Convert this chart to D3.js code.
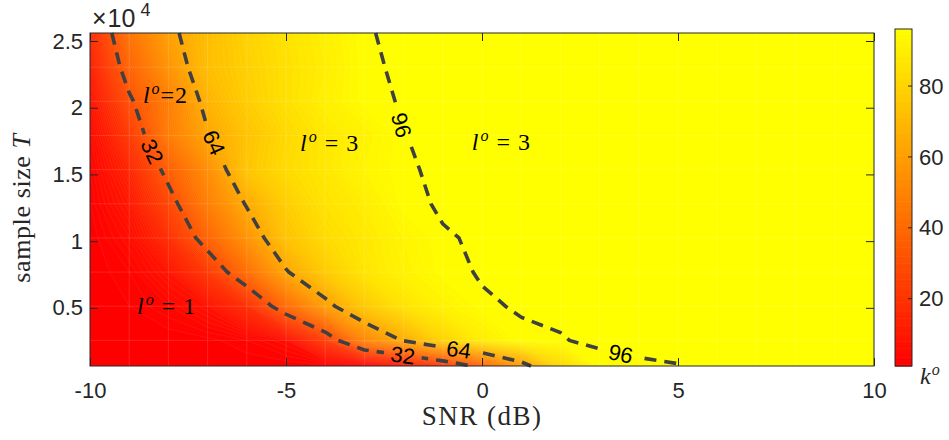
<!DOCTYPE html>
<html>
<head>
<meta charset="utf-8">
<script src="https://cdn.jsdelivr.net/npm/d3@7"></script>
<style>
  body { margin: 0; background: #fff; }
  svg { display: block; font-family: "Liberation Sans", Arial, sans-serif; }
</style>
</head>
<body>
<svg id="chart" width="949" height="440"></svg>
<script>
// grid of the surface: SNR (dB) columns, sample size T rows (top to bottom)
var snr = [-10, -9, -8, -7, -6, -5, -4, -3, -2, -1, 0, 1, 2, 3, 4, 5, 6, 7, 8, 9, 10];
var sampleT = [25600, 23040, 20480, 17920, 15360, 12800, 10240, 7680, 5120, 2560, 640];

// k^o, one row per sample size
var kVals = [
  [17, 44, 61, 72, 80, 86, 91, 95.96, 96.1, 96.1, 96.1, 96.1, 96.1, 96.1, 96.1, 96.1, 96.1, 96.1, 96.1, 96.1, 96.1],
  [12, 38, 56, 72, 79, 85, 90, 95.89, 96.1, 96.1, 96.1, 96.1, 96.1, 96.1, 96.1, 96.1, 96.1, 96.1, 96.1, 96.1, 96.1],
  [8, 30, 48, 68, 78, 85, 91, 95.64, 96.1, 96.1, 96.1, 96.1, 96.1, 96.1, 96.1, 96.1, 96.1, 96.1, 96.1, 96.1, 96.1],
  [5, 22, 47, 63, 74, 82, 88, 92, 95.99, 96.1, 96.1, 96.1, 96.1, 96.1, 96.1, 96.1, 96.1, 96.1, 96.1, 96.1, 96.1],
  [3, 15, 36, 54, 75, 83, 88, 93, 95.93, 96.1, 96.1, 96.1, 96.1, 96.1, 96.1, 96.1, 96.1, 96.1, 96.1, 96.1, 96.1],
  [2, 10, 27, 48, 65, 78, 86, 90, 95.77, 96.1, 96.1, 96.1, 96.1, 96.1, 96.1, 96.1, 96.1, 96.1, 96.1, 96.1, 96.1],
  [1, 6, 18, 38, 56, 74, 83, 88, 93, 95.93, 96.1, 96.1, 96.1, 96.1, 96.1, 96.1, 96.1, 96.1, 96.1, 96.1, 96.1],
  [1, 3, 9, 22, 42, 63, 77, 87, 92, 95.66, 96.1, 96.1, 96.1, 96.1, 96.1, 96.1, 96.1, 96.1, 96.1, 96.1, 96.1],
  [1, 2, 4, 8, 18, 40, 60, 76, 86, 92, 95.85, 96.1, 96.1, 96.1, 96.1, 96.1, 96.1, 96.1, 96.1, 96.1, 96.1],
  [1, 1, 1, 1.5, 3, 6, 23, 50.5, 65, 80, 90, 95.79, 95.97, 96.1, 96.1, 96.1, 96.1, 96.1, 96.1, 96.1, 96.1],
  [1, 1, 1, 1, 1, 1, 1, 1, 8, 20, 36, 58, 82, 95.8, 95.95, 95.99, 96.1, 96.1, 96.1, 96.1, 96.1]
];

var lineLevels = [32, 64, 96];
var xTicks = [-10, -5, 0, 5, 10];
var yTicks = [5000, 10000, 15000, 20000, 25000];
var cTicks = [20, 40, 60, 80];

// inline contour labels (approximate spot along each line)
var contourLabels = [
  { level: 32, snr: -8.43, T: 16700 },
  { level: 32, snr: -2.02, T: 1450 },
  { level: 64, snr: -6.86, T: 17350 },
  { level: 64, snr: -0.61, T: 1500 },
  { level: 96, snr: -2.05, T: 18700 },
  { level: 96, snr: 3.52, T: 1300 }
];

// region annotations l^o
var regionLabels = [
  { snr: -8.65, T: 20350, text: "=2" },
  { snr: -4.64, T: 16750, text: " = 3" },
  { snr: -0.26, T: 16820, text: " = 3" },
  { snr: -8.8, T: 4520, text: " = 1" }
];

var kMin = 1, kMax = 96.1;

var svg = d3.select("#chart");
var margin = { top: 33, left: 90 };
var width = 784, height = 333;
var axisColor = "#262626";
var tickFont = "22px 'Liberation Sans', Arial, sans-serif";

var x = d3.scaleLinear().domain([-10, 10]).range([0, width]);
var y = d3.scaleLinear().domain([640, 25600]).range([height, 0]);
var color = d3.scaleLinear().domain([kMin, kMax]).range(["#ff0000", "#ffff00"]);

var defs = svg.append("defs");
defs.append("clipPath").attr("id", "plotClip")
    .append("rect").attr("width", width).attr("height", height);

var g = svg.append("g")
    .attr("transform", "translate(" + margin.left + "," + margin.top + ")");

// grid coordinate from d3.contours -> data value
function gridIndex(c, n) {
    return Math.max(0, Math.min(n - 1, c - 0.5));
}
function interp(i, arr) {
    var i0 = Math.floor(i), i1 = Math.min(arr.length - 1, i0 + 1);
    return arr[i0] + (arr[i1] - arr[i0]) * (i - i0);
}

var nx = snr.length, ny = sampleT.length;
var grid = [].concat.apply([], kVals);
var contours = d3.contours().size([nx, ny]);

var proj = d3.geoTransform({
    point: function (cx, cy) {
        this.stream.point(x(interp(gridIndex(cx, nx), snr)), y(interp(gridIndex(cy, ny), sampleT)));
    }
});
var path = d3.geoPath(proj);

// filled contours
var fillLevels = d3.range(kMin, kMax, 1);
g.append("g")
    .attr("clip-path", "url(#plotClip)")
    .selectAll("path")
    .data(contours.thresholds(fillLevels)(grid))
    .join("path")
    .attr("d", path)
    .attr("fill", function (d) { return color(d.value); })
    .attr("stroke", "rgba(255,255,255,0.10)")
    .attr("stroke-width", 0.6);

// faint mesh of the data grid
var mesh = g.append("g").attr("stroke", "#fff").attr("stroke-opacity", 0.16).attr("stroke-width", 0.8);
mesh.selectAll(".vl").data(snr.slice(1, -1)).join("line")
    .attr("x1", function (d) { return x(d); }).attr("x2", function (d) { return x(d); })
    .attr("y1", 0).attr("y2", height);
mesh.selectAll(".hl").data(sampleT.slice(1, -1)).join("line")
    .attr("y1", function (d) { return y(d); }).attr("y2", function (d) { return y(d); })
    .attr("x1", 0).attr("x2", width);

// contour lines split off the plot border
function splitRing(ring) {
    var pts = ring.map(function (p) {
        var ix = gridIndex(p[0], nx), iy = gridIndex(p[1], ny);
        return { ix: ix, iy: iy, px: x(interp(ix, snr)), py: y(interp(iy, sampleT)) };
    });
    function onBorder(a, b) {
        return (a.ix === 0 && b.ix === 0) || (a.ix === nx - 1 && b.ix === nx - 1) ||
            (a.iy === 0 && b.iy === 0) || (a.iy === ny - 1 && b.iy === ny - 1);
    }
    var n = pts.length - 1, start = -1;
    for (var i = 0; i < n; i++) if (onBorder(pts[i], pts[i + 1])) { start = i + 1; break; }
    if (start < 0) return [pts.map(function (p) { return [p.px, p.py]; })];
    var order = [];
    for (var k = 0; k <= n; k++) order.push(pts[(start + k) % n]);
    var out = [], cur = [order[0]];
    for (k = 0; k < order.length - 1; k++) {
        if (onBorder(order[k], order[k + 1])) {
            if (cur.length > 1) out.push(cur);
            cur = [order[k + 1]];
        } else cur.push(order[k + 1]);
    }
    if (cur.length > 1) out.push(cur);
    return out.map(function (c) { return c.map(function (p) { return [p.px, p.py]; }); });
}

var lineSets = lineLevels.map(function (lv) {
    var mp = contours.contour(grid, lv), pieces = [];
    mp.coordinates.forEach(function (poly) {
        poly.forEach(function (ring) {
            splitRing(ring).forEach(function (p) { pieces.push(p); });
        });
    });
    return { level: lv, pieces: pieces };
});

function nearestOn(pieces, px, py) {
    var best = null;
    pieces.forEach(function (pts) {
        for (var i = 0; i < pts.length - 1; i++) {
            var ax = pts[i][0], ay = pts[i][1], bx = pts[i + 1][0], by = pts[i + 1][1];
            var dx = bx - ax, dy = by - ay, L = dx * dx + dy * dy;
            var t = L ? ((px - ax) * dx + (py - ay) * dy) / L : 0;
            t = Math.max(0, Math.min(1, t));
            var qx = ax + t * dx, qy = ay + t * dy;
            var d = (qx - px) * (qx - px) + (qy - py) * (qy - py);
            if (!best || d < best.d) best = { d: d, x: qx, y: qy, ang: Math.atan2(dy, dx) * 180 / Math.PI };
        }
    });
    if (best.ang > 90) best.ang -= 180;
    if (best.ang < -90) best.ang += 180;
    return best;
}

var labelSpots = contourLabels.map(function (lb) {
    var set = lineSets.filter(function (s) { return s.level === lb.level; })[0];
    var p = nearestOn(set.pieces, x(lb.snr), y(lb.T));
    return { level: lb.level, x: p.x, y: p.y, ang: p.ang };
});

var mask = defs.append("mask").attr("id", "lblMask")
    .attr("maskUnits", "userSpaceOnUse")
    .attr("x", -margin.left).attr("y", -margin.top).attr("width", 949).attr("height", 440);
mask.append("rect").attr("x", -margin.left).attr("y", -margin.top)
    .attr("width", 949).attr("height", 440).attr("fill", "#fff");
mask.selectAll(".gap").data(labelSpots).join("rect")
    .attr("x", -19).attr("y", -10).attr("width", 38).attr("height", 20)
    .attr("fill", "#000")
    .attr("transform", function (d) { return "translate(" + d.x + "," + d.y + ") rotate(" + d.ang + ")"; });

var lineGen = d3.line();
var lines = g.append("g").attr("mask", "url(#lblMask)");
lineSets.forEach(function (s) {
    lines.selectAll(null).data(s.pieces).join("path")
        .attr("d", lineGen)
        .attr("fill", "none")
        .attr("stroke", "#404040")
        .attr("stroke-width", 3.6)
        .attr("stroke-dasharray", "12,8");
});

g.selectAll(".clabel").data(labelSpots).join("text")
    .attr("class", "clabel")
    .attr("transform", function (d) { return "translate(" + d.x + "," + d.y + ") rotate(" + d.ang + ")"; })
    .attr("text-anchor", "middle")
    .attr("dy", "0.36em")
    .style("font", "22px 'Liberation Sans', Arial, sans-serif")
    .attr("fill", "#000")
    .text(function (d) { return d.level; });

// region annotations
regionLabels.forEach(function (r) {
    var t = g.append("text")
        .attr("x", x(r.snr)).attr("y", y(r.T))
        .style("font-family", "'Liberation Serif', 'Times New Roman', serif")
        .style("font-size", "24px")
        .style("letter-spacing", "1px")
        .attr("fill", "#000");
    t.append("tspan").attr("font-style", "italic").text("l");
    t.append("tspan").attr("font-style", "italic").attr("font-size", "16px").attr("dy", -9).attr("dx", 1).text("o");
    t.append("tspan").attr("dy", 9).text(r.text);
});

// axes
function styleAxis(sel) {
    sel.select(".domain").remove();
    sel.selectAll("line").attr("stroke", axisColor);
    sel.selectAll("text").attr("fill", axisColor).style("font", tickFont);
}

g.append("g").attr("transform", "translate(0," + height + ")")
    .call(d3.axisBottom(x).tickValues(xTicks).tickSize(-8).tickPadding(16)
        .tickFormat(function (d) { return String(d); }))
    .call(styleAxis);
g.append("g")
    .call(d3.axisTop(x).tickValues(xTicks).tickSize(-8).tickFormat(""))
    .call(styleAxis);
g.append("g")
    .call(d3.axisLeft(y).tickValues(yTicks).tickSize(-8).tickPadding(7)
        .tickFormat(function (d) { return String(d / 1e4); }))
    .call(styleAxis);
g.append("g").attr("transform", "translate(" + width + ",0)")
    .call(d3.axisRight(y).tickValues(yTicks).tickSize(-8).tickFormat(""))
    .call(styleAxis);

g.append("rect").attr("width", width).attr("height", height)
    .attr("fill", "none").attr("stroke", axisColor).attr("stroke-width", 1);

// x10^4 exponent
var ex = svg.append("text").attr("x", 92).attr("y", 27).attr("fill", axisColor)
    .style("font", "25px 'Liberation Sans', Arial, sans-serif");
ex.append("tspan").text("\u00d7");
ex.append("tspan").attr("dx", 1).text("10");
ex.append("tspan").attr("font-size", "18px").attr("dy", -11).attr("dx", 5).text("4");

// axis titles
svg.append("text")
    .attr("transform", "translate(" + (margin.left + width / 2) + ",425)")
    .attr("text-anchor", "middle")
    .style("font", "27px 'Liberation Serif', 'Times New Roman', serif")
    .style("letter-spacing", "1.5px")
    .attr("fill", axisColor)
    .text("SNR (dB)");

var yl = svg.append("text")
    .attr("transform", "translate(30,208) rotate(-90)")
    .attr("text-anchor", "middle")
    .style("font", "26px 'Liberation Serif', 'Times New Roman', serif")
    .style("letter-spacing", "0.6px")
    .attr("fill", axisColor);
yl.append("tspan").text("sample size ");
yl.append("tspan").attr("font-style", "italic").text("T");

// colorbar
var cb = { x: 895, y0: 29, y1: 366, w: 17 };
var cy = d3.scaleLinear().domain([kMin, kMax]).range([cb.y1, cb.y0]);
var cbLevels = d3.range(kMin, kMax, 0.5);
svg.append("g").selectAll("rect").data(cbLevels).join("rect")
    .attr("x", cb.x)
    .attr("y", function (d) { return cy(Math.min(kMax, d + 0.5)); })
    .attr("width", cb.w)
    .attr("height", function (d) { return cy(d) - cy(Math.min(kMax, d + 0.5)) + 0.6; })
    .attr("fill", function (d) { return color(d); });
svg.append("rect").attr("x", cb.x).attr("y", cb.y0).attr("width", cb.w).attr("height", cb.y1 - cb.y0)
    .attr("fill", "none").attr("stroke", axisColor).attr("stroke-width", 1);
svg.append("g").selectAll("line").data(cTicks).join("line")
    .attr("x1", cb.x + cb.w).attr("x2", cb.x + cb.w - 4)
    .attr("y1", function (d) { return cy(d); }).attr("y2", function (d) { return cy(d); })
    .attr("stroke", axisColor);
svg.append("g").selectAll("text").data(cTicks).join("text")
    .attr("x", cb.x + cb.w + 7)
    .attr("y", function (d) { return cy(d); })
    .attr("dy", "0.35em")
    .attr("fill", axisColor)
    .style("font", tickFont)
    .text(function (d) { return d; });

var kl = svg.append("text").attr("x", 920).attr("y", 384)
    .style("font", "24px 'Liberation Serif', 'Times New Roman', serif")
    .attr("fill", axisColor);
kl.append("tspan").attr("font-style", "italic").text("k");
kl.append("tspan").attr("font-style", "italic").attr("font-size", "16px").attr("dy", -9).attr("dx", 1).text("o");
</script>
</body>
</html>
